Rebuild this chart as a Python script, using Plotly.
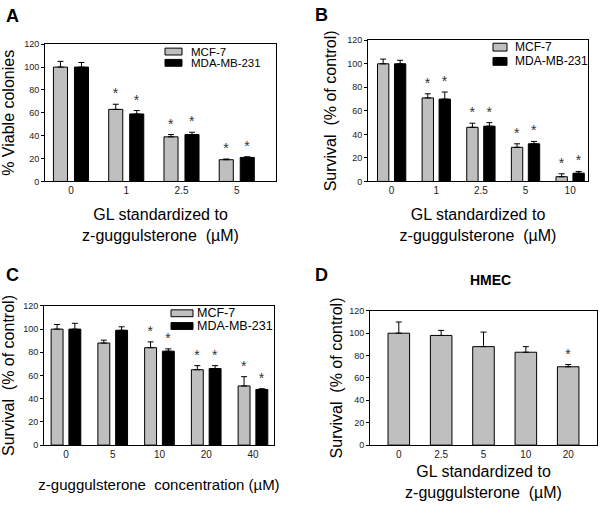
import plotly.graph_objects as go

# Panel A: colony formation
a_dose = ["0", "1", "2.5", "5"]
a_mcf7 = [100, 63, 39, 19]
a_mcf7_err = [5, 4.5, 2, 0.6]
a_mda = [100, 59, 41, 21]
a_mda_err = [4, 3, 2, 0.6]
a_sig = [False, True, True, True]

# Panel B: survival, GL extract
b_dose = ["0", "1", "2.5", "5", "10"]
b_mcf7 = [100, 71, 46, 29, 4]
b_mcf7_err = [4, 3.5, 3.5, 3, 2.5]
b_mda = [100, 70, 47, 32, 7]
b_mda_err = [3, 6, 3, 2, 1.5]
b_sig = [False, True, True, True, True]

# Panel C: survival, pure z-guggulsterone
c_dose = ["0", "5", "10", "20", "40"]
c_mcf7 = [100, 88, 84, 65, 51]
c_mcf7_err = [4, 2.5, 5, 3.5, 8]
c_mda = [100, 99, 81, 66, 48]
c_mda_err = [5, 3, 2, 2.5, 0.6]
c_sig = [False, False, True, True, True]

# Panel D: HMEC
d_dose = ["0", "2.5", "5", "10", "20"]
d_hmec = [100, 98, 88, 83, 70]
d_hmec_err = [10, 4.5, 13, 5, 2]
d_sig = [False, False, False, False, True]

series_names = ["MCF-7", "MDA-MB-231"]
GRAY = "#bfbfbf"
FONT = "Liberation Sans, Arial, sans-serif"
W, H = 600, 505


def dom_x(x0, x1):
    return [x0 / W, x1 / W]


def dom_y(y0, y1):
    return [1 - y1 / H, 1 - y0 / H]


fig = go.Figure()
star_font = dict(size=14, color="#333333", family=FONT)


def add_series(n, x, y, err, sig, color, group):
    xa, ya = f"x{n}", f"y{n}"
    fig.add_trace(go.Bar(
        x=x, y=y, xaxis=xa, yaxis=ya, offsetgroup=group,
        marker=dict(color=color, line=dict(color="black", width=1)),
        error_y=dict(type="data", array=err, arrayminus=[0] * len(err),
                     symmetric=False, color="black", thickness=1, width=3),
        showlegend=False, hoverinfo="skip",
    ))
    # invisible bar up to the error-bar top carries the asterisk
    tops = [v + e for v, e in zip(y, err)]
    fig.add_trace(go.Bar(
        x=x, y=tops, xaxis=xa, yaxis=ya, offsetgroup=group,
        marker=dict(color="rgba(255,255,255,0)", line=dict(width=0)),
        text=["*" if s else "" for s in sig], textposition="outside",
        textfont=star_font, outsidetextfont=star_font, insidetextfont=star_font,
        constraintext="none", cliponaxis=False,
        showlegend=False, hoverinfo="skip",
    ))


add_series(1, a_dose, a_mcf7, a_mcf7_err, a_sig, GRAY, "g1")
add_series(1, a_dose, a_mda, a_mda_err, a_sig, "black", "g2")
add_series(2, b_dose, b_mcf7, b_mcf7_err, b_sig, GRAY, "g1")
add_series(2, b_dose, b_mda, b_mda_err, b_sig, "black", "g2")
add_series(3, c_dose, c_mcf7, c_mcf7_err, c_sig, GRAY, "g1")
add_series(3, c_dose, c_mda, c_mda_err, c_sig, "black", "g2")
add_series(4, d_dose, d_hmec, d_hmec_err, d_sig, GRAY, "g1")

axis_common = dict(showline=True, linecolor="black", linewidth=1, mirror=True,
                   showgrid=False, zeroline=False, fixedrange=True)
yax = dict(axis_common, range=[0, 120], tickvals=[0, 20, 40, 60, 80, 100, 120],
           ticks="outside", ticklen=3, tickcolor="black",
           tickfont=dict(size=9, color="#222", family=FONT))
xax = dict(axis_common, type="category", ticks="",
           tickfont=dict(size=10, color="#222", family=FONT))
title_font = dict(size=16, color="black", family=FONT)

gl_title = "GL standardized to<br>z-guggulsterone\u00a0 (\u00b5M)"
surv_title = "Survival\u00a0 (% of control)"

# hand-made legends: (box x0, x1, text x, row centres, box height, font size)
legend_specs = [
    (165, 182, 189, [47.5, 59], 7, 11.5),
    (493, 507, 513, [43, 57.5], 8, 12),
    (171, 193, 195, [314.5, 327.5], 7, 12.5),
]
shapes, annotations = [], []
for bx0, bx1, tx, rows, bh, fs in legend_specs:
    for yc, color, name in zip(rows, [GRAY, "black"], series_names):
        shapes.append(dict(type="rect", xref="paper", yref="paper",
                           x0=bx0 / W, x1=bx1 / W,
                           y0=1 - (yc + bh / 2) / H, y1=1 - (yc - bh / 2) / H,
                           fillcolor=color, line=dict(color="black", width=1)))
        annotations.append(dict(text=name, x=tx / W, y=1 - yc / H,
                                xanchor="left", yanchor="middle",
                                font=dict(size=fs, family=FONT, color="black")))

for letter, px, py in [("A", 12, 11), ("B", 321, 10), ("C", 12, 275), ("D", 321, 275)]:
    annotations.append(dict(text=f"<b>{letter}</b>", x=px / W, y=1 - py / H,
                            xanchor="center", yanchor="middle",
                            font=dict(size=18, family=FONT, color="black")))
annotations.append(dict(text="<b>HMEC</b>", x=490 / W, y=1 - 281 / H,
                        xanchor="center", yanchor="middle",
                        font=dict(size=14, family=FONT, color="black")))
for ann in annotations:
    ann.update(xref="paper", yref="paper", showarrow=False)

fig.update_layout(
    width=W, height=H, margin=dict(l=0, r=0, t=0, b=0),
    paper_bgcolor="white", plot_bgcolor="white", showlegend=False,
    barmode="group", bargap=0.24, bargroupgap=0.33,
    font=dict(family=FONT, color="black"),
    xaxis=dict(xax, domain=dom_x(45, 276), anchor="y", range=[-0.47, 3.71],
               title=dict(text=gl_title, font=title_font, standoff=13)),
    yaxis=dict(yax, domain=dom_y(40, 180), anchor="x",
               title=dict(text="% Viable colonies", font=title_font, standoff=6)),
    xaxis2=dict(xax, domain=dom_x(368, 588), anchor="y2", range=[-0.53, 4.4],
                title=dict(text=gl_title, font=title_font, standoff=13)),
    yaxis2=dict(yax, domain=dom_y(36, 180), anchor="x2",
                title=dict(text=surv_title, font=title_font, standoff=6)),
    xaxis3=dict(xax, domain=dom_x(44, 274), anchor="y3", range=[-0.47, 4.45],
                title=dict(text="z-guggulsterone\u00a0 concentration (\u00b5M)",
                           font=dict(title_font, size=15), standoff=20)),
    yaxis3=dict(yax, domain=dom_y(307, 449), anchor="x3",
                title=dict(text=surv_title, font=title_font, standoff=4)),
    xaxis4=dict(xax, domain=dom_x(370, 597), anchor="y4", range=[-0.68, 4.68],
                title=dict(text=gl_title, font=title_font, standoff=6)),
    yaxis4=dict(yax, domain=dom_y(312, 449), anchor="x4",
                title=dict(text=surv_title, font=title_font, standoff=2)),
    shapes=shapes,
    annotations=annotations,
)

fig.write_html("out.html", config={"displayModeBar": False},
               post_script="document.body.style.margin = '0';")
